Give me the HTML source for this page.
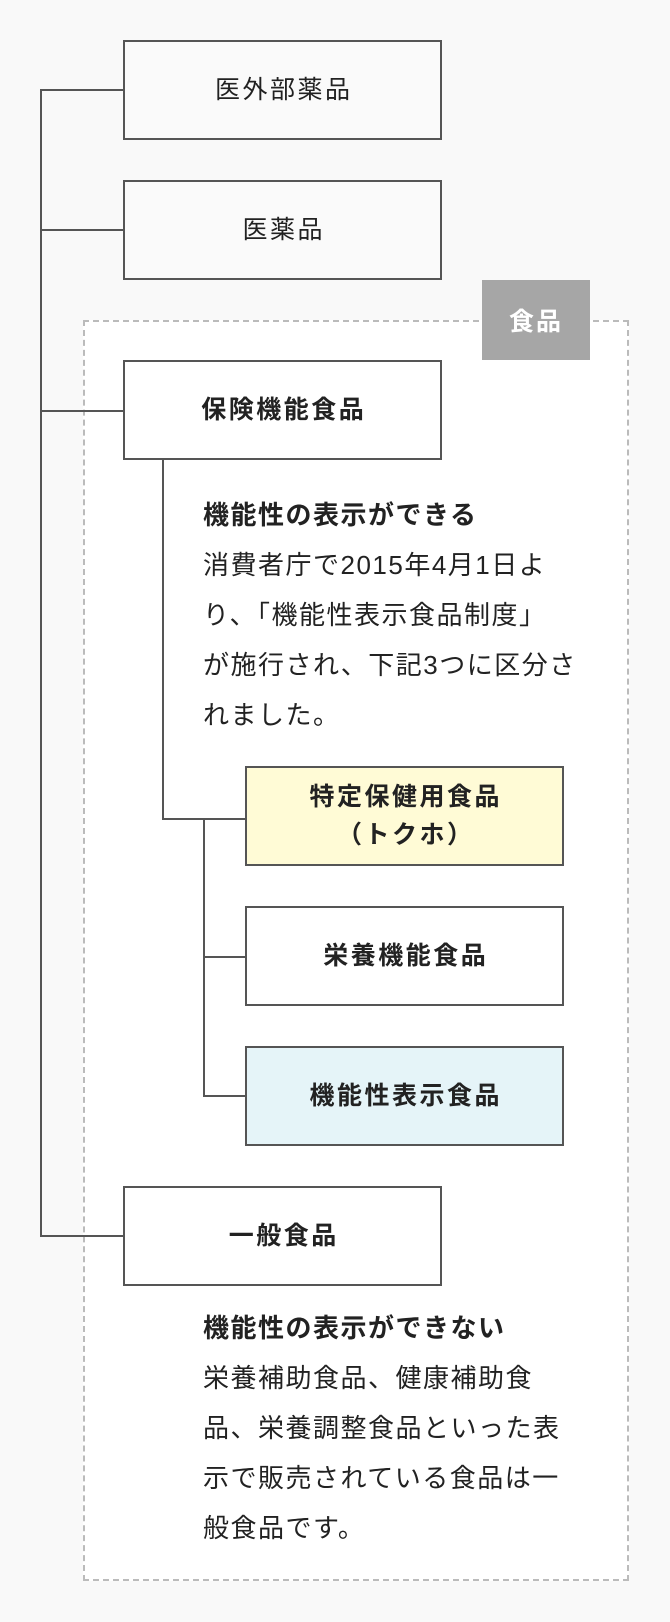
<!DOCTYPE html>
<html><head><meta charset="utf-8"><style>
html,body{margin:0;padding:0;}
body{width:670px;height:1622px;background:#f9f9f9;position:relative;overflow:hidden;font-family:"Liberation Sans","Noto Sans CJK JP",sans-serif;color:#222;}
.a{position:absolute;}
.box{position:absolute;box-sizing:border-box;border:2px solid #555;background:#fafafa;display:flex;align-items:center;justify-content:center;text-align:center;font-size:25px;letter-spacing:2.5px;padding-left:2.5px;line-height:38px;}
.w{background:#fff;font-weight:bold;}
.h{position:absolute;background:#555;height:2px;}
.v{position:absolute;background:#555;width:2px;}
.t{position:absolute;left:203px;font-size:26px;letter-spacing:1.5px;line-height:50px;white-space:nowrap;}
.t b{font-weight:bold;}
</style></head><body>
<div class="a" style="left:83px;top:320px;width:546px;height:1261px;box-sizing:border-box;border:2px dashed #bbb;background:#fff;"></div>
<div class="a" style="left:482px;top:280px;width:108px;height:80px;background:#a6a6a6;color:#fff;font-weight:bold;font-size:25px;letter-spacing:2px;display:flex;align-items:center;justify-content:center;">食品</div>

<div class="v" style="left:40px;top:89px;height:1147px;"></div>
<div class="h" style="left:40px;top:89px;width:84px;"></div>
<div class="h" style="left:40px;top:229px;width:84px;"></div>
<div class="h" style="left:40px;top:410px;width:84px;"></div>
<div class="h" style="left:40px;top:1235px;width:84px;"></div>

<div class="box" style="left:123px;top:40px;width:319px;height:100px;">医外部薬品</div>
<div class="box" style="left:123px;top:180px;width:319px;height:100px;">医薬品</div>
<div class="box w" style="left:123px;top:360px;width:319px;height:100px;">保険機能食品</div>

<div class="v" style="left:162px;top:459px;height:360px;"></div>
<div class="h" style="left:162px;top:818px;width:84px;"></div>
<div class="v" style="left:203px;top:818px;height:279px;"></div>
<div class="h" style="left:203px;top:956px;width:43px;"></div>
<div class="h" style="left:203px;top:1095px;width:43px;"></div>

<div class="t" style="top:490px;"><b>機能性の表示ができる</b><br>消費者庁で2015年4月1日よ<br>り、「機能性表示食品制度」<br>が施行され、下記3つに区分さ<br>れました。</div>

<div class="box w" style="left:245px;top:766px;width:319px;height:100px;background:#fffbd6;">特定保健用食品<br>（トクホ）</div>
<div class="box w" style="left:245px;top:906px;width:319px;height:100px;">栄養機能食品</div>
<div class="box w" style="left:245px;top:1046px;width:319px;height:100px;background:#e5f4f8;">機能性表示食品</div>

<div class="box w" style="left:123px;top:1186px;width:319px;height:100px;">一般食品</div>

<div class="t" style="top:1303px;"><b>機能性の表示ができない</b><br>栄養補助食品、健康補助食<br>品、栄養調整食品といった表<br>示で販売されている食品は一<br>般食品です。</div>
</body></html>
